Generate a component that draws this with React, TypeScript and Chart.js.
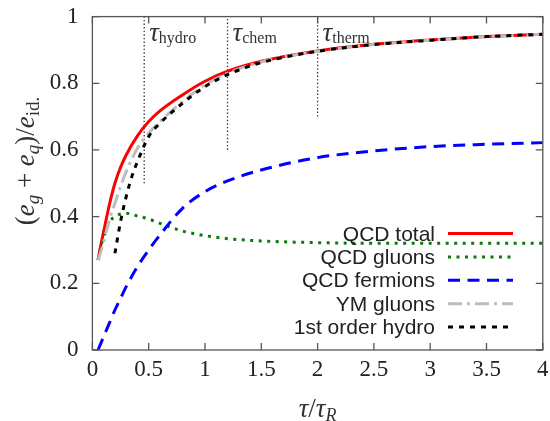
import React, { useEffect, useRef } from "react";
import { Chart, registerables } from "chart.js";
Chart.register(...registerables);

// ---- data ----
const tau = [0.05, 0.075, 0.1, 0.15, 0.2, 0.25, 0.3, 0.4, 0.5, 0.6, 0.8, 1.0, 1.2, 1.5, 2.0, 2.5, 3.0, 3.5, 4.0];
const qcdTotal = [0.27, 0.315, 0.355, 0.435, 0.5, 0.548, 0.585, 0.642, 0.685, 0.717, 0.765, 0.806, 0.836, 0.866, 0.897, 0.917, 0.93, 0.94, 0.947];
const qcdGluons = [0.27, 0.31, 0.34, 0.383, 0.4, 0.408, 0.41, 0.402, 0.393, 0.38, 0.357, 0.343, 0.334, 0.327, 0.322, 0.32, 0.32, 0.32, 0.32];
const qcdFermions = [0.0, 0.02, 0.04, 0.08, 0.12, 0.155, 0.19, 0.25, 0.3, 0.345, 0.425, 0.475, 0.507, 0.54, 0.577, 0.597, 0.61, 0.617, 0.622];
const ymGluons = [0.27, 0.295, 0.325, 0.39, 0.44, 0.49, 0.535, 0.605, 0.65, 0.685, 0.745, 0.795, 0.83, 0.864, 0.896, 0.916, 0.929, 0.94, 0.947];
const hydroTau = [0.2, 0.25, 0.3, 0.35, 0.4, 0.5, 0.6, 0.8, 1.0, 1.2, 1.5, 2.0, 2.5, 3.0, 3.5, 4.0];
const hydro1st = [0.29, 0.385, 0.46, 0.52, 0.565, 0.64, 0.68, 0.74, 0.79, 0.826, 0.862, 0.896, 0.916, 0.929, 0.94, 0.947];

const seriesLabels = ["QCD total", "QCD gluons", "QCD fermions", "YM gluons", "1st order hydro"];

const markerTau = [0.46, 1.2, 2.0];
const markerBottom = [0.5, 0.6, 0.7];
const markerTop = 1;
const markerNames = ["hydro", "chem", "therm"];

const xTickStep = 0.5;
const yTickStep = 0.2;

const SERIF = "'Liberation Serif', 'DejaVu Serif', serif";
const SANS = "'Liberation Sans', Arial, sans-serif";

type Piece = { t: string; font: string; dy?: number };

function drawPieces(ctx: CanvasRenderingContext2D, pieces: Piece[], x0: number, y0: number, align: "left" | "center") {
  let w = 0;
  const widths = pieces.map((p) => {
    ctx.font = p.font;
    const m = ctx.measureText(p.t).width;
    w += m;
    return m;
  });
  let x = align === "center" ? x0 - w / 2 : x0;
  ctx.textAlign = "left";
  ctx.textBaseline = "alphabetic";
  pieces.forEach((p, i) => {
    ctx.font = p.font;
    ctx.fillText(p.t, x, y0 + (p.dy || 0));
    x += widths[i];
  });
}

const framePlugin = {
  id: "frameTicks",
  afterDraw(chart: any) {
    const { ctx, chartArea: a, scales } = chart;
    const x = scales.x;
    const y = scales.y;
    ctx.save();
    ctx.strokeStyle = "#555";
    ctx.lineWidth = 1.3;
    ctx.setLineDash([]);
    ctx.strokeRect(a.left, a.top, a.right - a.left, a.bottom - a.top);
    const L = 7;
    ctx.beginPath();
    x.ticks.forEach((t: any) => {
      const px = x.getPixelForValue(t.value);
      ctx.moveTo(px, a.bottom);
      ctx.lineTo(px, a.bottom - L);
      ctx.moveTo(px, a.top);
      ctx.lineTo(px, a.top + L);
    });
    y.ticks.forEach((t: any) => {
      const py = y.getPixelForValue(t.value);
      ctx.moveTo(a.left, py);
      ctx.lineTo(a.left + L, py);
      ctx.moveTo(a.right, py);
      ctx.lineTo(a.right - L, py);
    });
    ctx.stroke();
    ctx.restore();
  },
};

const annotationPlugin = {
  id: "annotations",
  afterDraw(chart: any) {
    const { ctx, scales, chartArea: a } = chart;
    const x = scales.x;
    const y = scales.y;
    ctx.save();
    ctx.fillStyle = "#333";
    // tau labels next to marker lines
    markerTau.forEach((t, i) => {
      const px = x.getPixelForValue(t) + 5;
      const py = y.getPixelForValue(markerTop) + 24;
      drawPieces(
        ctx,
        [
          { t: "τ", font: `italic 27px ${SERIF}` },
          { t: markerNames[i], font: `16px ${SERIF}`, dy: 2 },
        ],
        px,
        py,
        "left"
      );
    });
    // x axis title
    drawPieces(
      ctx,
      [
        { t: "τ", font: `italic 27px ${SERIF}` },
        { t: "/", font: `27px ${SERIF}` },
        { t: "τ", font: `italic 27px ${SERIF}` },
        { t: "R", font: `italic 18px ${SERIF}`, dy: 4 },
      ],
      (a.left + a.right) / 2,
      417,
      "center"
    );
    // y axis title (rotated)
    ctx.translate(34, 161);
    ctx.rotate(-Math.PI / 2);
    drawPieces(
      ctx,
      [
        { t: "(", font: `27px ${SERIF}` },
        { t: "e", font: `italic 27px ${SERIF}` },
        { t: "g", font: `italic 19px ${SERIF}`, dy: 5 },
        { t: " + ", font: `27px ${SERIF}` },
        { t: "e", font: `italic 27px ${SERIF}` },
        { t: "q", font: `italic 19px ${SERIF}`, dy: 5 },
        { t: ")/", font: `27px ${SERIF}` },
        { t: "e", font: `italic 27px ${SERIF}` },
        { t: "id.", font: `19px ${SERIF}`, dy: 5 },
      ],
      0,
      0,
      "center"
    );
    ctx.restore();
  },
};

const legendPlugin = {
  id: "customLegend",
  afterDraw(chart: any) {
    const { ctx } = chart;
    ctx.save();
    const textRight = 435;
    const lineX0 = 448;
    const lineX1 = 513;
    const baseY = 240.5;
    const step = 23.4;
    chart.data.datasets.forEach((ds: any) => {
      const idx = seriesLabels.indexOf(ds.label);
      if (idx < 0) return;
      const by = baseY + idx * step;
      ctx.font = `21px ${SANS}`;
      ctx.fillStyle = "#222";
      ctx.textAlign = "right";
      ctx.textBaseline = "alphabetic";
      ctx.fillText(ds.label, textRight, by);
      ctx.strokeStyle = ds.borderColor;
      ctx.lineWidth = ds.borderWidth;
      ctx.setLineDash(ds.borderDash || []);
      ctx.lineCap = "butt";
      ctx.beginPath();
      ctx.moveTo(lineX0, by - 7);
      ctx.lineTo(lineX1, by - 7);
      ctx.stroke();
    });
    ctx.restore();
  },
};

export default function App() {
  const ref = useRef<HTMLCanvasElement | null>(null);
  useEffect(() => {
    if (!ref.current) return;
    const common = {
      pointRadius: 0,
      fill: false,
      borderCapStyle: "butt",
      cubicInterpolationMode: "monotone",
    };
    const markerSets = markerTau.map((t, i) => ({
      label: "marker-" + markerNames[i],
      data: [
        { x: t, y: markerBottom[i] },
        { x: t, y: markerTop },
      ],
      borderColor: "#333",
      borderWidth: 1.3,
      borderDash: [1.4, 2.2],
      pointRadius: 0,
      tension: 0,
      order: 10,
    }));
    const chart = new Chart(ref.current, {
      type: "line",
      data: {
        datasets: [
          {
            ...common,
            label: seriesLabels[0],
            data: tau.map((t, i) => ({ x: t, y: qcdTotal[i] })),
            borderColor: "#ff0000",
            borderWidth: 3,
            borderDash: [],
            order: 5,
          },
          {
            ...common,
            label: seriesLabels[1],
            data: tau.map((t, i) => ({ x: t, y: qcdGluons[i] })),
            borderColor: "#0a7a0a",
            borderWidth: 3,
            borderDash: [3, 5.5],
            order: 4,
          },
          {
            ...common,
            label: seriesLabels[2],
            data: tau.map((t, i) => ({ x: t, y: qcdFermions[i] })),
            borderColor: "#0000ff",
            borderWidth: 3,
            borderDash: [12, 7.5],
            order: 3,
          },
          {
            ...common,
            label: seriesLabels[3],
            data: tau.map((t, i) => ({ x: t, y: ymGluons[i] })),
            borderColor: "#bdbdbd",
            borderWidth: 3,
            borderDash: [14, 5, 3, 5],
            order: 2,
          },
          {
            ...common,
            label: seriesLabels[4],
            data: hydroTau.map((t, i) => ({ x: t, y: hydro1st[i] })),
            borderColor: "#000000",
            borderWidth: 3,
            borderDash: [5, 6],
            order: 1,
          },
          ...markerSets,
        ] as any,
      },
      options: {
        responsive: false,
        animation: false,
        events: [],
        layout: { padding: { top: 16.6, right: 7.2, left: 0, bottom: 0 } },
        plugins: { legend: { display: false }, tooltip: { enabled: false } },
        scales: {
          x: {
            type: "linear",
            min: 0,
            max: 4,
            ticks: {
              stepSize: xTickStep,
              autoSkip: false,
              maxRotation: 0,
              padding: 6,
              color: "#222",
              font: { family: SERIF, size: 23 },
              callback: (v: any) => String(Math.round(Number(v) * 10) / 10),
            },
            grid: { display: false, drawTicks: false },
            border: { display: false },
            afterFit: (s: any) => {
              s.height = 71;
              s.paddingLeft = 0;
              s.paddingRight = 0;
            },
          },
          y: {
            type: "linear",
            min: 0,
            max: 1,
            ticks: {
              stepSize: yTickStep,
              autoSkip: false,
              padding: 14,
              color: "#222",
              font: { family: SERIF, size: 23 },
              callback: (v: any) => String(Math.round(Number(v) * 10) / 10),
            },
            grid: { display: false, drawTicks: false },
            border: { display: false },
            afterFit: (s: any) => {
              s.width = 92.4;
              s.paddingTop = 0;
              s.paddingBottom = 0;
            },
          },
        },
      } as any,
      plugins: [framePlugin, annotationPlugin, legendPlugin],
    });
    return () => chart.destroy();
  }, []);
  return (
    <div style={{ position: "absolute", left: 0, top: 0, width: 550, height: 421, background: "#fff" }}>
      <canvas ref={ref} width={550} height={421} style={{ display: "block", width: 550, height: 421 }} />
    </div>
  );
}
